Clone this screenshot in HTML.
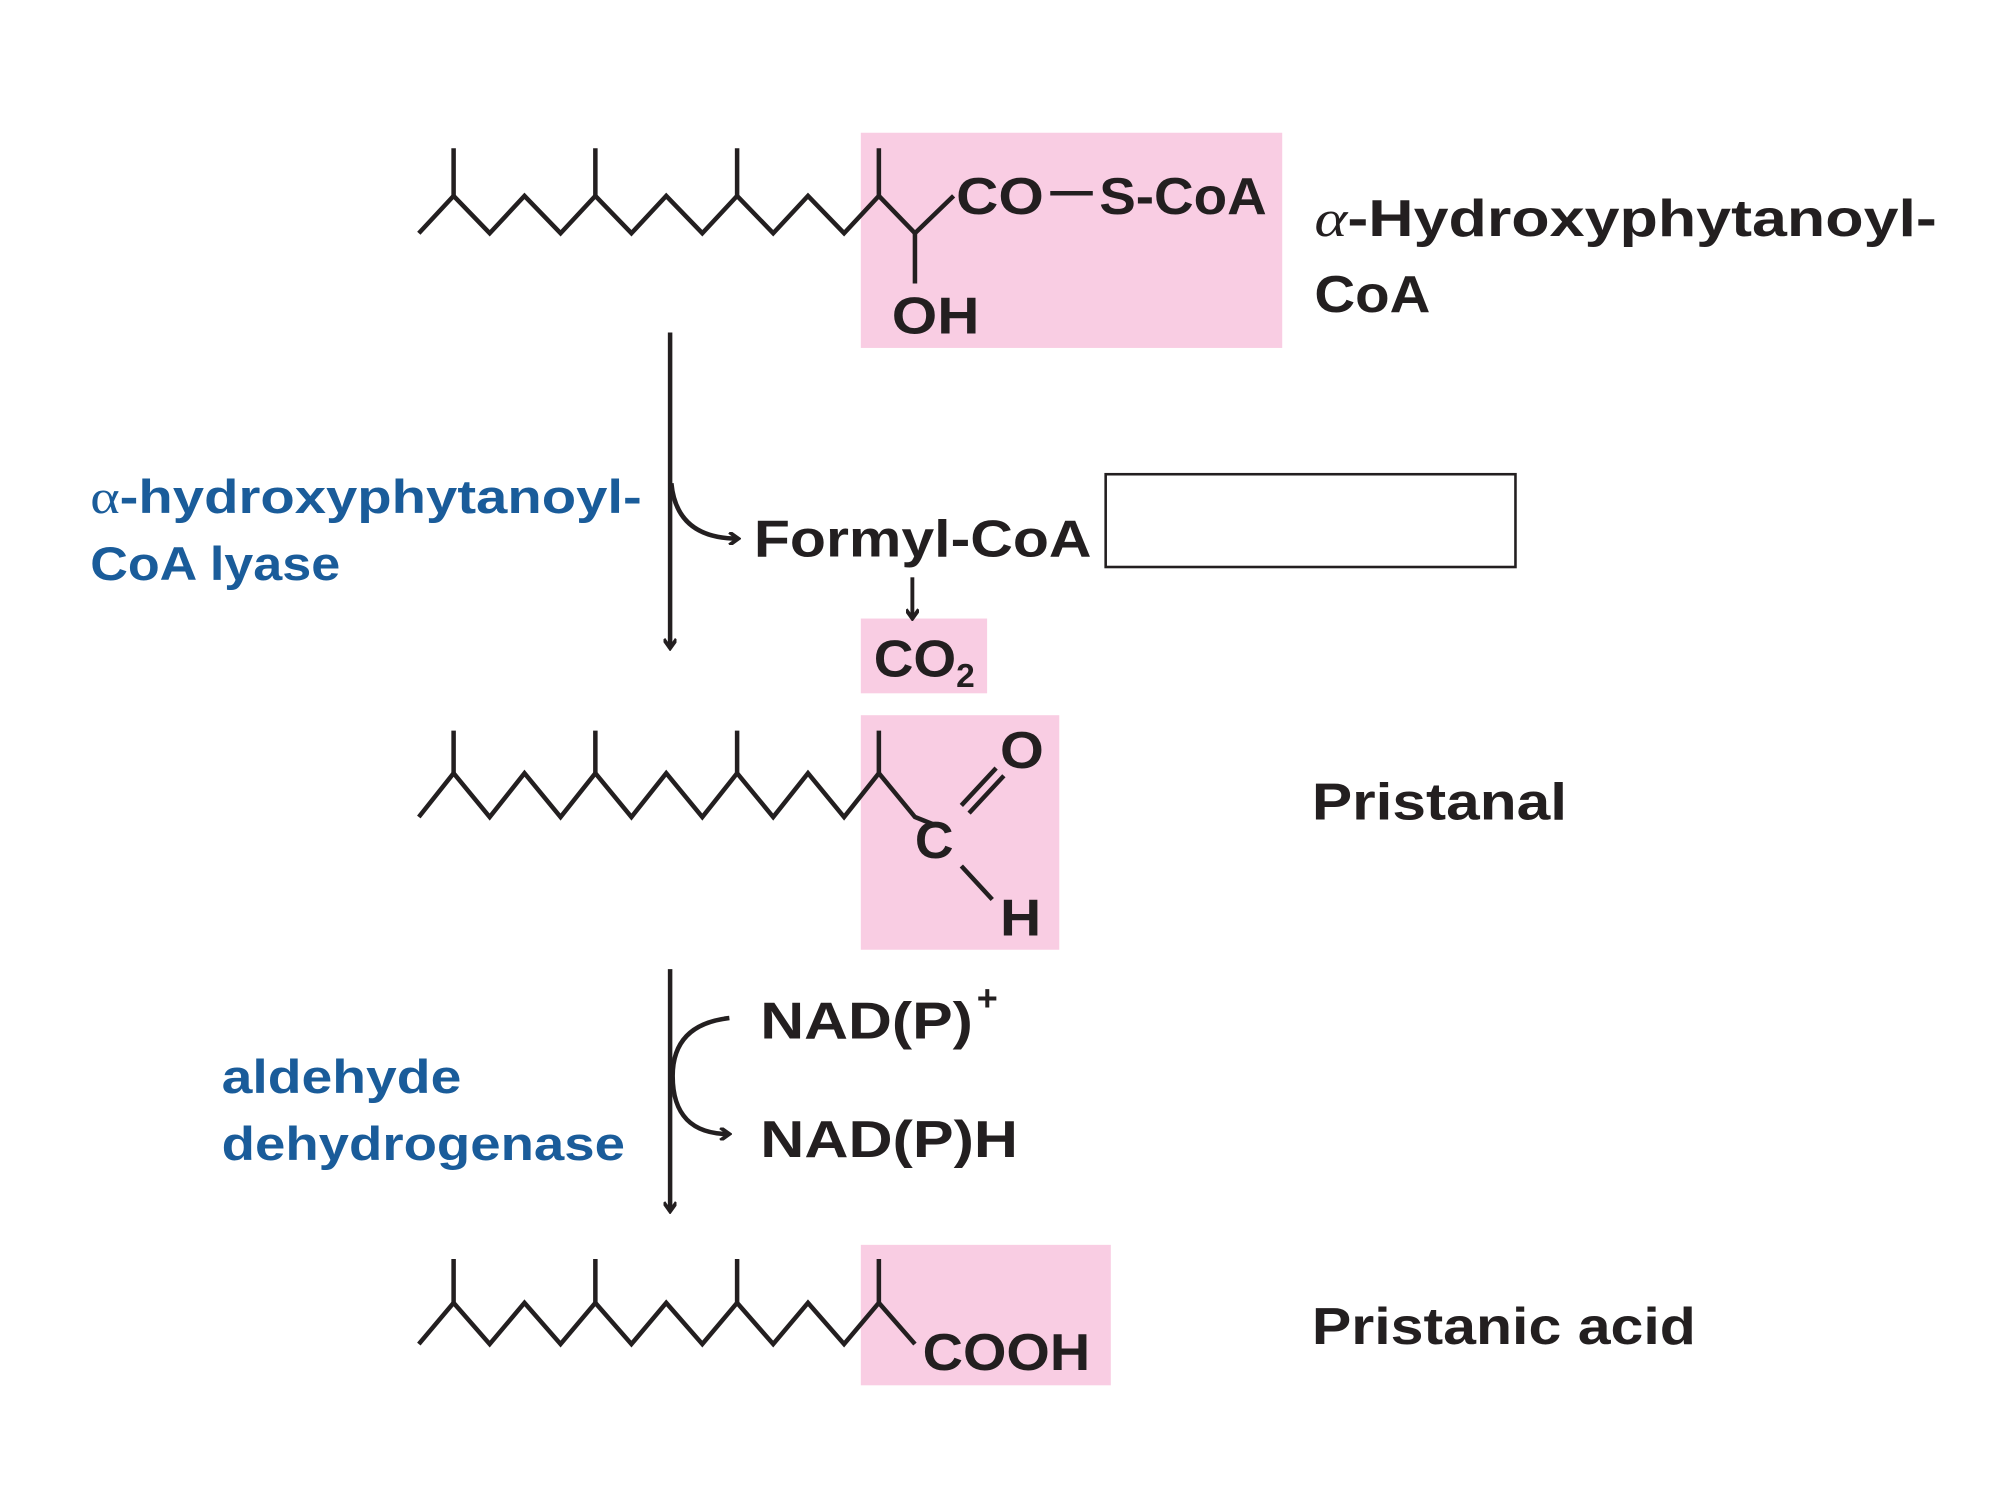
<!DOCTYPE html>
<html><head><meta charset="utf-8"><style>html,body{margin:0;padding:0;background:#fff}svg{display:block}</style></head>
<body>
<svg width="2000" height="1500" viewBox="0 0 1552 1164" xmlns="http://www.w3.org/2000/svg" font-family="Liberation Sans, sans-serif" font-weight="bold">
<defs><marker id="ah" markerWidth="10" markerHeight="10" refX="8" refY="5" orient="auto" markerUnits="userSpaceOnUse"><path d="M1,0 L8,5 L1,10" fill="none" stroke="#231f20" stroke-width="3"/></marker></defs>
<g fill="#f9cde3">
<rect x="668" y="103" width="327" height="167"/>
<rect x="668" y="480" width="98" height="58"/>
<rect x="668" y="555" width="154" height="182"/>
<rect x="668" y="966" width="194" height="109"/>
</g>
<g fill="none" stroke="#231f20" stroke-width="3.5" stroke-linejoin="miter">
<path d="M325,181 L352,152 L380,181 L407,152 L435,181 L462,152 L490,181 L517,152 L545,181 L572,152 L600,181 L627,152 L655,181 L682,152 L710,181 L740,152"/>
<path d="M352,152V115 M462,152V115 M572,152V115 M682,152V115 M710,181V220"/>
<path d="M815,150H848"/>
<path d="M325,634 L352,600 L380,634 L407,600 L435,634 L462,600 L490,634 L517,600 L545,634 L572,600 L600,634 L627,600 L655,634 L682,600 L710,634 L725,640"/>
<path d="M352,600V567 M462,600V567 M572,600V567 M682,600V567"/>
<path d="M746,625 L773,596 M752,631 L779,602 M746,672 L770,698"/>
<path d="M325,1043 L352,1011 L380,1043 L407,1011 L435,1043 L462,1011 L490,1043 L517,1011 L545,1043 L572,1011 L600,1043 L627,1011 L655,1043 L682,1011 L710,1043"/>
<path d="M352,1011V977 M462,1011V977 M572,1011V977 M682,1011V977"/>
<path d="M520,258V503" marker-end="url(#ah)"/>
<path d="M521,375 Q525,418 573,418" marker-end="url(#ah)"/>
<path d="M708,448V480" marker-end="url(#ah)" stroke-width="3"/>
<path d="M520,752V940" marker-end="url(#ah)"/>
<path d="M566,790 Q522,795 522,835 Q522,880 566,880" marker-end="url(#ah)"/>
</g>
<rect x="858" y="368" width="318" height="72" fill="none" stroke="#231f20" stroke-width="2"/>
<g fill="#231f20" font-size="40">
<text x="742" y="166" textLength="68" lengthAdjust="spacingAndGlyphs">CO</text>
<text x="853" y="166" textLength="130" lengthAdjust="spacingAndGlyphs">S-CoA</text>
<text x="692" y="259" textLength="68" lengthAdjust="spacingAndGlyphs">OH</text>
<text x="1020" y="183" textLength="483" lengthAdjust="spacingAndGlyphs"><tspan font-family="Liberation Serif, serif" font-style="italic" font-weight="normal">α</tspan>-Hydroxyphytanoyl-</text>
<text x="1020" y="242" textLength="90" lengthAdjust="spacingAndGlyphs">CoA</text>
<text x="585" y="432" textLength="262" lengthAdjust="spacingAndGlyphs">Formyl-CoA</text>
<text x="678" y="525" textLength="64" lengthAdjust="spacingAndGlyphs">CO</text>
<text x="742" y="533" font-size="26">2</text>
<text x="710" y="666" textLength="30" lengthAdjust="spacingAndGlyphs">C</text>
<text x="776" y="596" textLength="34" lengthAdjust="spacingAndGlyphs">O</text>
<text x="776" y="726" textLength="32" lengthAdjust="spacingAndGlyphs">H</text>
<text x="1018" y="636" textLength="198" lengthAdjust="spacingAndGlyphs">Pristanal</text>
<text x="590" y="806" textLength="165" lengthAdjust="spacingAndGlyphs">NAD(P)</text>
<text x="758" y="784" font-size="28">+</text>
<text x="590" y="898" textLength="200" lengthAdjust="spacingAndGlyphs">NAD(P)H</text>
<text x="716" y="1063" textLength="130" lengthAdjust="spacingAndGlyphs">COOH</text>
<text x="1018" y="1043" textLength="298" lengthAdjust="spacingAndGlyphs">Pristanic acid</text>
</g>
<g fill="#1a5c9a" font-size="37">
<text x="70" y="398" textLength="428" lengthAdjust="spacingAndGlyphs"><tspan font-family="Liberation Serif, serif" font-weight="normal">α</tspan>-hydroxyphytanoyl-</text>
<text x="70" y="450" textLength="194" lengthAdjust="spacingAndGlyphs">CoA lyase</text>
<text x="172" y="848" textLength="186" lengthAdjust="spacingAndGlyphs">aldehyde</text>
<text x="172" y="900" textLength="313" lengthAdjust="spacingAndGlyphs">dehydrogenase</text>
</g>
</svg>
</body></html>
